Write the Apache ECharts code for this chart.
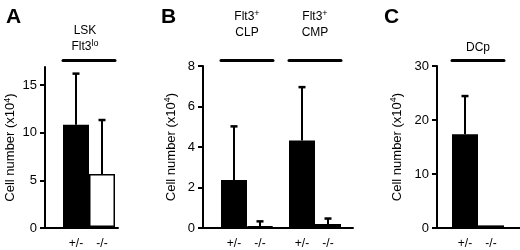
<!DOCTYPE html>
<html>
<head>
<meta charset="utf-8">
<script src="https://cdn.jsdelivr.net/npm/echarts@6/dist/echarts.min.js"></script>
<style>html,body{margin:0;padding:0;background:#fff}#c{width:520px;height:250px}</style>
</head>
<body>
<div id="c"></div>
<script>
// ---- data (cell number x10^4), mean and SD (upper error) ----
const genotypes = ['+/-', '-/-'];
const lskFlt3loMean = [10.8, 5.6];
const lskFlt3loErr  = [5.4, 5.7];
const clpMean = [2.33, 0.03];
const clpErr  = [2.67, 0.25];
const cmpMean = [4.3, 0.15];
const cmpErr  = [2.65, 0.27];
const dcpMean = [17.3, 0.3];
const dcpErr  = [7.1, 0];
const ticksA = [0, 5, 10, 15];
const ticksB = [0, 2, 4, 6, 8];
const ticksC = [0, 10, 20, 30];
const maxA = 16.9, maxB = 8, maxC = 30;

const FONT = 'Liberation Sans, Arial, Helvetica, sans-serif';
const fills = ['#000000', '#ffffff'];

function frameX(gi) {
  return { gridIndex: gi, type: 'value', min: 0, max: 1,
    axisLine: { show: true, lineStyle: { color: '#000', width: 2 } },
    axisTick: { show: false }, axisLabel: { show: false }, splitLine: { show: false } };
}
function frameY(gi, max, ticks, gap) {
  return { gridIndex: gi, type: 'value', min: 0, max: max,
    axisLine: { show: true, lineStyle: { color: '#000', width: 2 } },
    axisTick: { show: true, length: 5, lineStyle: { color: '#000', width: 2 }, customValues: ticks },
    axisLabel: { color: '#000', fontSize: 13, fontFamily: FONT, margin: 8, customValues: ticks },
    splitLine: { show: false },
    name: 'Cell number (x10{sup|4})', nameLocation: 'middle', nameGap: gap,
    nameTextStyle: { color: '#000', fontSize: 13, fontFamily: FONT, lineHeight: 16,
      rich: { sup: { fontSize: 9, fontFamily: FONT, color: '#000', verticalAlign: 'top', lineHeight: 16 } } } };
}
function dataXBottom(gi) {
  return { gridIndex: gi, type: 'category', data: genotypes, position: 'bottom',
    axisLine: { show: false }, axisTick: { show: false },
    axisLabel: { color: '#000', fontSize: 12, fontFamily: FONT, margin: 11, interval: 0 } };
}
function dataXTop(gi, name, gap, offset, pad) {
  return { gridIndex: gi, type: 'category', data: [name], position: 'top', offset: offset,
    axisLine: { show: true, lineStyle: { color: '#000', width: 3 } },
    axisTick: { show: false }, axisLabel: { show: false },
    name: name, nameLocation: 'middle', nameGap: gap,
    nameTextStyle: { color: '#000', fontSize: 12, fontFamily: FONT, lineHeight: 16, padding: pad || 0,
      rich: { sup: { fontSize: 9, fontFamily: FONT, color: '#000', verticalAlign: 'top', lineHeight: 16 } } } };
}
function dataY(gi, max) {
  return { gridIndex: gi, type: 'value', min: 0, max: max, show: false };
}
function barSeries(axisIdx, mean) {
  return { type: 'bar', xAxisIndex: axisIdx, yAxisIndex: axisIdx, barWidth: '100%', z: 2,
    data: mean.map((v, i) => ({ value: v, itemStyle: { color: fills[i], borderColor: '#000', borderWidth: i ? 1.5 : 0 } })) };
}
function errSeries(axisIdx, mean, err) {
  return { type: 'custom', xAxisIndex: axisIdx, yAxisIndex: axisIdx, z: 3,
    data: mean.map((v, i) => [i, v, v + err[i], err[i]]),
    renderItem: function (params, api) {
      if (api.value(3) <= 0) return null;
      const b = api.coord([api.value(0), api.value(1)]);
      const t = api.coord([api.value(0), api.value(2)]);
      return { type: 'group', children: [
        { type: 'line', shape: { x1: b[0], y1: b[1], x2: b[0], y2: t[1] }, style: { stroke: '#000', lineWidth: 2 } },
        { type: 'line', shape: { x1: b[0] - 3.5, y1: t[1], x2: b[0] + 3.5, y2: t[1] }, style: { stroke: '#000', lineWidth: 2.5 } }
      ] };
    } };
}

// grids: 0 A frame, 1 A data, 2 B frame, 3 B CLP, 4 B CMP, 5 C frame, 6 C data
const grid = [
  { left: 45, width: 73, top: 67, bottom: 22 },
  { left: 63, width: 52, top: 67, bottom: 22 },
  { left: 203, width: 150, top: 66, bottom: 22 },
  { left: 221, width: 52, top: 66, bottom: 22 },
  { left: 289, width: 52, top: 66, bottom: 22 },
  { left: 437, width: 83, top: 66, bottom: 22 },
  { left: 452, width: 52, top: 66, bottom: 22 }
];

const xAxis = [
  frameX(0), dataXBottom(1), frameX(2), dataXBottom(3), dataXBottom(4), frameX(5), dataXBottom(6),
  dataXTop(1, '{n|LSK}\n{n|Flt3}{sup|lo}', 5, 7, [0, 8, 0, 0]),
  dataXTop(3, 'Flt3{sup|+}\nCLP', 19, 6),
  dataXTop(4, 'Flt3{sup|+}\nCMP', 19, 6),
  dataXTop(6, 'DCp', 4, 6)
];
const yAxis = [
  frameY(0, maxA, ticksA, 26), dataY(1, maxA), frameY(2, maxB, ticksB, 24), dataY(3, maxB), dataY(4, maxB),
  frameY(5, maxC, ticksC, 32), dataY(6, maxC)
];

const option = {
  animation: false,
  textStyle: { fontFamily: FONT },
  title: [
    { text: 'A', left: 1, top: 2, textStyle: { fontSize: 21, fontWeight: 'bold', color: '#000', fontFamily: FONT } },
    { text: 'B', left: 156, top: 2, textStyle: { fontSize: 21, fontWeight: 'bold', color: '#000', fontFamily: FONT } },
    { text: 'C', left: 379, top: 2, textStyle: { fontSize: 21, fontWeight: 'bold', color: '#000', fontFamily: FONT } }
  ],
  grid: grid,
  xAxis: xAxis,
  yAxis: yAxis,
  series: [
    barSeries(1, lskFlt3loMean), errSeries(1, lskFlt3loMean, lskFlt3loErr),
    barSeries(3, clpMean), errSeries(3, clpMean, clpErr),
    barSeries(4, cmpMean), errSeries(4, cmpMean, cmpErr),
    barSeries(6, dcpMean), errSeries(6, dcpMean, dcpErr)
  ]
};
echarts.init(document.getElementById('c'), null, { renderer: 'canvas' }).setOption(option);
</script>
</body>
</html>
